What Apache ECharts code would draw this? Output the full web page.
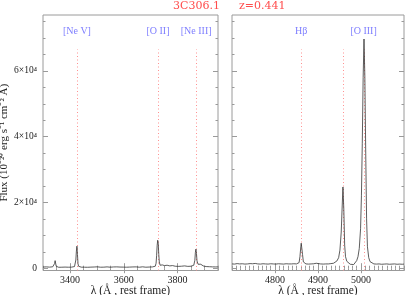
<!DOCTYPE html>
<html><head><meta charset="utf-8">
<script src="https://cdn.jsdelivr.net/npm/echarts@6/dist/echarts.min.js"></script>
<style>html,body{margin:0;padding:0;background:#fff}#c{width:407px;height:295px}</style>
</head><body><div id="c"></div>
<script>
// ---- data ----
const leftWave = [3300,3306,3312,3318,3324,3330,3336,3340,3343,3345,3347,3349,3352,3358,3364,3370,3376,3382,3388,3394,3400,3406,3412,3417,3420,3422,3424,3426,3428,3430,3432,3436,3442,3448,3454,3460,3466,3472,3478,3484,3490,3496,3502,3508,3514,3520,3526,3532,3538,3544,3550,3556,3562,3568,3574,3580,3586,3592,3598,3604,3610,3616,3622,3628,3634,3640,3646,3652,3658,3664,3670,3676,3682,3688,3694,3700,3706,3712,3717,3720,3722,3724,3726,3728,3730,3732,3735,3739,3743,3747,3751,3756,3761,3766,3771,3776,3781,3786,3791,3796,3802,3808,3814,3820,3826,3832,3838,3844,3850,3856,3860,3864,3866,3868,3870,3872,3874,3876,3879,3883,3886,3889,3892,3895,3900,3906,3912,3918,3924,3930,3936,3942,3950];
const leftFlux = [350,280,400,250,330,300,420,500,1400,2300,1800,600,350,280,380,300,250,340,420,300,380,320,400,500,900,2500,5200,6700,4200,1400,600,400,320,380,300,350,280,400,330,300,360,280,420,350,300,380,320,280,400,350,300,450,380,320,400,300,350,420,330,380,300,400,340,300,380,320,400,350,300,380,420,350,300,400,350,420,380,450,600,1500,3800,6900,8500,7600,4200,1900,900,700,1000,650,800,500,900,600,700,500,800,450,600,500,550,450,600,500,700,450,550,500,600,700,900,2400,4800,5800,4500,2200,1800,1200,700,800,1200,1500,1200,700,600,500,550,450,500,400,450,380,400];
const rightWave = [4700,4706,4712,4718,4724,4730,4736,4742,4748,4754,4760,4766,4772,4778,4784,4790,4796,4802,4808,4814,4820,4826,4832,4838,4844,4850,4854,4856,4858,4860,4861,4862,4864,4866,4868,4872,4878,4884,4890,4896,4900,4906,4912,4918,4924,4930,4936,4940,4944,4948,4951,4954,4956,4958,4960,4962,4964,4967,4971,4975,4979,4983,4987,4990,4993,4996,4999,5001,5003,5005,5007,5009,5011,5013,5015,5018,5021,5025,5030,5036,5042,5048,5054,5060,5066,5072,5078,5084,5090,5096,5100];
const rightFlux = [1300,1250,1400,1300,1350,1250,1300,1400,1350,1450,1300,1250,1350,1300,1250,1350,1300,1250,1350,1300,1250,1350,1300,1300,1350,1300,1400,1700,3500,6500,7600,7000,4200,1900,1400,1300,1250,1300,1350,1500,1350,1300,1250,1300,1300,1400,1500,1700,2200,3200,5500,11000,18000,24700,18000,7000,3500,2100,1500,1200,1000,1100,1600,2300,3500,6000,12000,22000,38000,58000,69700,58000,35000,15000,6500,3200,2000,1500,1300,1250,1300,1200,1250,1300,1200,1250,1300,1200,1250,1200,1250];
const leftLineWaves = [3426, 3727, 3869];
const leftLineNames = ['[Ne V]', '[O II]', '[Ne III]'];
const rightLineWaves = [4861, 4959, 5007];
const rightLabelWaves = [4861, 5006];
const rightLabelNames = ['Hβ', '[O III]'];
const leftMajorTicks = [3400, 3600, 3800];
const rightMajorTicks = [4800, 4900, 5000];
const yMajorTicks = [0, 20000, 40000, 60000];
const yTickLabels = ['0', '2×10⁴', '4×10⁴', '6×10⁴'];
const titleName = '3C306.1';
const titleZ = 'z=0.441';
const xName = 'λ (Å , rest frame)';
const yName = 'Flux (10⁻²⁰ erg s⁻¹ cm⁻² Å)';

// ---- layout / style ----
const Y_MIN = -700, Y_MAX = 77000, LINE_TOP = 66500, LABEL_Y = 72000;
const FONT = 'Liberation Serif';
const FRAME = '#9a9a9a';
function steps(a, b, s) { const r = []; for (let v = a; v <= b + 1e-9; v += s) r.push(v); return r; }
const leftMinor = steps(3300, 3950, 50);
const rightMinor = steps(4700, 5100, 10);
const yMinor = steps(0, 75000, 5000);

function xAxesFor(gi, min, max, majors, minors, labels) {
  const base = { type: 'value', gridIndex: gi, min, max, axisLine: { show: false }, splitLine: { show: false }, offset: 0 };
  const tick = (vals, len) => ({ show: true, inside: true, length: len, customValues: vals, lineStyle: { color: FRAME, width: 1 } });
  return [
    Object.assign({}, base, { position: 'bottom', axisTick: tick(majors, 5),
      axisLabel: { show: labels, customValues: majors, color: '#222', fontFamily: FONT, fontSize: 10, margin: 5, formatter: v => String(v) },
      name: xName, nameLocation: 'middle', nameGap: 14, nameMoveOverlap: false,
      nameTextStyle: { color: '#222', fontFamily: FONT, fontSize: 11.5, verticalAlign: 'top' } }),
    Object.assign({}, base, { position: 'bottom', axisTick: tick(minors, 2.5), axisLabel: { show: false } }),
    Object.assign({}, base, { position: 'top', axisTick: tick(majors, 5), axisLabel: { show: false } }),
    Object.assign({}, base, { position: 'top', axisTick: tick(minors, 2.5), axisLabel: { show: false } })
  ];
}
function yAxesFor(gi, labels) {
  const base = { type: 'value', gridIndex: gi, min: Y_MIN, max: Y_MAX, axisLine: { show: false }, splitLine: { show: false }, offset: 0 };
  const tick = (vals, len) => ({ show: true, inside: true, length: len, customValues: vals, lineStyle: { color: FRAME, width: 1 } });
  const main = Object.assign({}, base, { position: 'left', axisTick: tick(yMajorTicks, 5),
    axisLabel: { show: labels, customValues: yMajorTicks, margin: 6, color: '#222', fontFamily: FONT, fontSize: 9.5,
      formatter: v => yTickLabels[yMajorTicks.indexOf(v)] } });
  if (labels) Object.assign(main, { name: yName, nameLocation: 'middle', nameRotate: 90, nameGap: 33, nameMoveOverlap: false,
    nameTextStyle: { color: '#222', fontFamily: FONT, fontSize: 11 } });
  return [
    main,
    Object.assign({}, base, { position: 'left', axisTick: tick(yMinor, 2.5), axisLabel: { show: false } }),
    Object.assign({}, base, { position: 'right', axisTick: tick(yMajorTicks, 5), axisLabel: { show: false } }),
    Object.assign({}, base, { position: 'right', axisTick: tick(yMinor, 2.5), axisLabel: { show: false } })
  ];
}
function zip(a, b) { return a.map((v, i) => [v, b[i]]); }
function spectrum(gi, w, f, lines) {
  return {
    type: 'line', xAxisIndex: gi * 4, yAxisIndex: gi * 4, data: zip(w, f),
    showSymbol: false, symbol: 'none', lineStyle: { color: '#333', width: 0.8 }, z: 3, silent: true,
    markLine: { silent: true, symbol: ['none', 'none'], label: { show: false },
      lineStyle: { color: '#ff9090', type: [1, 2.5], width: 1 }, z: 2,
      data: lines.map(x => [{ coord: [x, Y_MIN] }, { coord: [x, LINE_TOP] }]) }
  };
}
function labelSeries(gi, waves, names) {
  return {
    type: 'scatter', xAxisIndex: gi * 4, yAxisIndex: gi * 4, symbolSize: 1, silent: true,
    itemStyle: { color: 'rgba(0,0,0,0)' },
    data: waves.map((x, i) => ({ value: [x, LABEL_Y], name: names[i] })),
    label: { show: true, position: 'inside', formatter: '{b}', color: '#5c5cff', fontFamily: FONT, fontSize: 10 }
  };
}

const chart = echarts.init(document.getElementById('c'), null, { renderer: 'canvas' });
chart.setOption({
  animation: false,
  backgroundColor: '#fff',
  title: [
    { text: titleName, left: 173, top: 0, padding: 0, textStyle: { color: '#ff4d4d', fontFamily: 'DejaVu Serif', fontSize: 11, fontWeight: 'normal', lineHeight: 12 } },
    { text: titleZ, left: 239, top: 0, padding: 0, textStyle: { color: '#ff4d4d', fontFamily: 'DejaVu Serif', fontSize: 11, fontWeight: 'normal', lineHeight: 12 } }
  ],
  grid: [
    { left: 43, top: 15, width: 175, height: 255.5, outerBoundsMode: 'none', containLabel: false, show: true, borderColor: FRAME, borderWidth: 1, backgroundColor: 'transparent' },
    { left: 232, top: 15, width: 172, height: 255.5, outerBoundsMode: 'none', containLabel: false, show: true, borderColor: FRAME, borderWidth: 1, backgroundColor: 'transparent' }
  ],
  xAxis: [].concat(
    xAxesFor(0, 3300, 3950, leftMajorTicks, leftMinor, true),
    xAxesFor(1, 4700, 5100, rightMajorTicks, rightMinor, true)
  ),
  yAxis: [].concat(yAxesFor(0, true), yAxesFor(1, false)),
  series: [
    spectrum(0, leftWave, leftFlux, leftLineWaves),
    spectrum(1, rightWave, rightFlux, rightLineWaves),
    labelSeries(0, leftLineWaves, leftLineNames),
    labelSeries(1, rightLabelWaves, rightLabelNames)
  ]
});
</script>
</body></html>
